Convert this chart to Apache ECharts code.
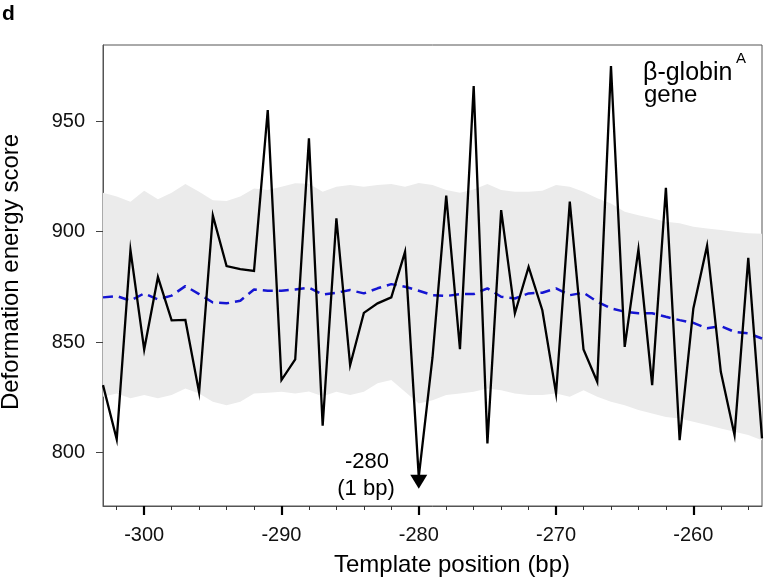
<!DOCTYPE html>
<html>
<head>
<meta charset="utf-8">
<script src="https://cdn.jsdelivr.net/npm/echarts@6/dist/echarts.min.js"></script>
<style>
html,body{margin:0;padding:0;background:#fff;}
#chart{width:764px;height:583px;}
</style>
</head>
<body>
<div id="chart"></div>
<script>
// Template positions (bp)
const positions = [-303,-302,-301,-300,-299,-298,-297,-296,-295,-294,-293,-292,-291,-290,-289,-288,-287,-286,-285,-284,-283,-282,-281,-280,-279,-278,-277,-276,-275,-274,-273,-272,-271,-270,-269,-268,-267,-266,-265,-264,-263,-262,-261,-260,-259,-258,-257,-256,-255];
// Deformation energy score of the beta-globin A gene
const geneScore = [830.5,806,891.6,846.6,879.4,859.8,860,827.2,907.3,884.4,883,882.2,955,832.8,842.1,942.2,812.1,906,839.5,863.2,867.5,870.2,890.8,789,843,916.2,846.8,965.8,804.1,909.7,863,884,864.4,826.7,913.5,846.6,832,974.9,847.8,891.9,830.5,919.8,805.6,865.2,893.6,836.5,807.9,888.1,806.4];
// Mean of background (blue dashed)
const meanScore = [870.2,870.8,868.7,872,869.3,871,875.3,871.7,867.9,867.5,868.7,873.8,873.2,873.2,873.8,874.6,871.5,872.3,873.5,872,874.3,876.2,875,873.2,871.2,870.8,871.7,871.7,874.3,870.5,869.7,872,872.3,874.3,871.2,872.3,868.2,865.2,863.7,863,863,861.4,859.9,858.7,856.2,857.2,854.6,853.9,851.6];
// Gray band upper / lower bounds
const bandUpper = [917.6,915.8,913.5,918.4,914.6,917.6,921.5,918,914.2,913.8,915.8,919.5,918.8,920.3,921.8,921.6,918,920.3,921,920.3,921,921.5,920.3,922,921,918.8,917.6,919,921.5,918.8,918,918,918.4,921,920.3,918,915,912.7,908.9,907.4,906,904.4,903.7,902.2,901.4,900.7,899.9,899.2,899];
const bandLower = [825.2,826.7,824.5,826,824.5,826,829,826.7,823,821.4,823,826.7,827,827.5,826.7,827.6,825.5,827.5,826,827.5,831.3,832.8,827.5,822.2,823.7,826,826.7,827.5,829,828.2,826.7,826,826,826.7,825.2,828.2,825.2,823,821.4,819.2,817.7,816.1,815.4,813.9,812.4,810.9,809.4,807.9,805.6];
// Tick labels
const xTicks = [-300, -290, -280, -270, -260];
const xMinorTicks = [-302, -298, -296, -294, -292, -288, -286, -284, -282, -278, -276, -274, -272, -268, -266, -264, -262, -258, -256];
const yTicks = [800, 850, 900, 950];
// Arrow annotation position
const arrowPos = [-280, 786.8];

const FONT = '"Liberation Sans", Arial, sans-serif';
const chart = echarts.init(document.getElementById('chart'), null, {renderer: 'canvas'});

const option = {
  animation: false,
  backgroundColor: '#fff',
  grid: {left: 103, top: 45, right: 2, bottom: 77, show: true, borderColor: '#555', borderWidth: 1, backgroundColor: 'transparent', containLabel: false, outerBoundsMode: 'none'},
  xAxis: [
    {
      type: 'value', min: -303, max: -255,
      axisLine: {show: true, onZero: false, lineStyle: {color: '#555', width: 1}},
      axisTick: {show: true, length: 9, customValues: xTicks, lineStyle: {color: '#000', width: 2.2}},
      splitLine: {show: false},
      axisLabel: {customValues: xTicks, fontFamily: FONT, fontSize: 20, color: '#111', margin: 19}
    },
    {
      type: 'value', min: -303, max: -255, position: 'bottom',
      axisLine: {show: false, onZero: false},
      axisTick: {show: true, length: 4, customValues: xMinorTicks, lineStyle: {color: '#333', width: 1}},
      splitLine: {show: false},
      axisLabel: {show: false}
    }
  ],
  yAxis: {
    type: 'value', min: 775.8, max: 984.4,
    axisLine: {show: true, onZero: false, lineStyle: {color: '#555', width: 1}},
    axisTick: {show: true, length: 7, customValues: yTicks, lineStyle: {color: '#444', width: 1}},
    splitLine: {show: false},
    axisLabel: {customValues: yTicks, fontFamily: FONT, fontSize: 20, color: '#111', margin: 18}
  },
  series: [
    {
      type: 'custom',
      silent: true,
      clip: true,
      z: 1,
      data: positions.map((p, i) => [p, bandUpper[i], bandLower[i]]),
      encode: {x: 0, y: [1, 2]},
      renderItem: function (params, api) {
        if (params.dataIndex !== 0) return null;
        const pts = [];
        for (let i = 0; i < positions.length; i++) pts.push(api.coord([positions[i], bandUpper[i]]));
        for (let i = positions.length - 1; i >= 0; i--) pts.push(api.coord([positions[i], bandLower[i]]));
        return {type: 'polygon', shape: {points: pts}, style: {fill: '#ebebeb', stroke: null}};
      }
    },
    {
      type: 'line',
      z: 3,
      symbol: 'none',
      data: positions.map((p, i) => [p, meanScore[i]]),
      lineStyle: {color: '#1515d2', width: 2.5, type: [10, 6]}
    },
    {
      type: 'line',
      z: 4,
      symbol: 'none',
      data: positions.map((p, i) => [p, geneScore[i]]),
      lineStyle: {color: '#000', width: 2.3, join: 'miter'},
      markPoint: {
        silent: true,
        data: [{coord: arrowPos, symbol: 'triangle', symbolRotate: 180, symbolSize: [17, 14], itemStyle: {color: '#000'}, label: {show: false}}]
      }
    }
  ],
  graphic: [
    {type: 'text', left: 2, top: 4, style: {text: 'd', font: 'bold 21px ' + FONT, fill: '#000'}},
    {type: 'text', x: 11, y: 272, rotation: Math.PI / 2, style: {text: 'Deformation energy score', font: '24px ' + FONT, fill: '#000', textAlign: 'center', textVerticalAlign: 'middle'}},
    {type: 'text', x: 452, y: 565, style: {text: 'Template position (bp)', font: '24px ' + FONT, fill: '#000', textAlign: 'center', textVerticalAlign: 'middle'}},
    {type: 'text', x: 643, y: 73.5, z: 10, style: {text: 'β-globin', font: '25px ' + FONT, fill: '#000', textAlign: 'left', textVerticalAlign: 'middle'}},
    {type: 'text', x: 736, y: 59, z: 10, style: {text: 'A', font: '15px ' + FONT, fill: '#000', textAlign: 'left', textVerticalAlign: 'middle'}},
    {type: 'text', x: 644, y: 95.5, z: 10, style: {text: 'gene', font: '24px ' + FONT, fill: '#000', textAlign: 'left', textVerticalAlign: 'middle'}},
    {type: 'text', x: 367, y: 461.5, z: 10, style: {text: '-280', font: '22px ' + FONT, fill: '#000', textAlign: 'center', textVerticalAlign: 'middle'}},
    {type: 'text', x: 366, y: 489, z: 10, style: {text: '(1 bp)', font: '22px ' + FONT, fill: '#000', textAlign: 'center', textVerticalAlign: 'middle'}}
  ]
};
chart.setOption(option);
</script>
</body>
</html>
